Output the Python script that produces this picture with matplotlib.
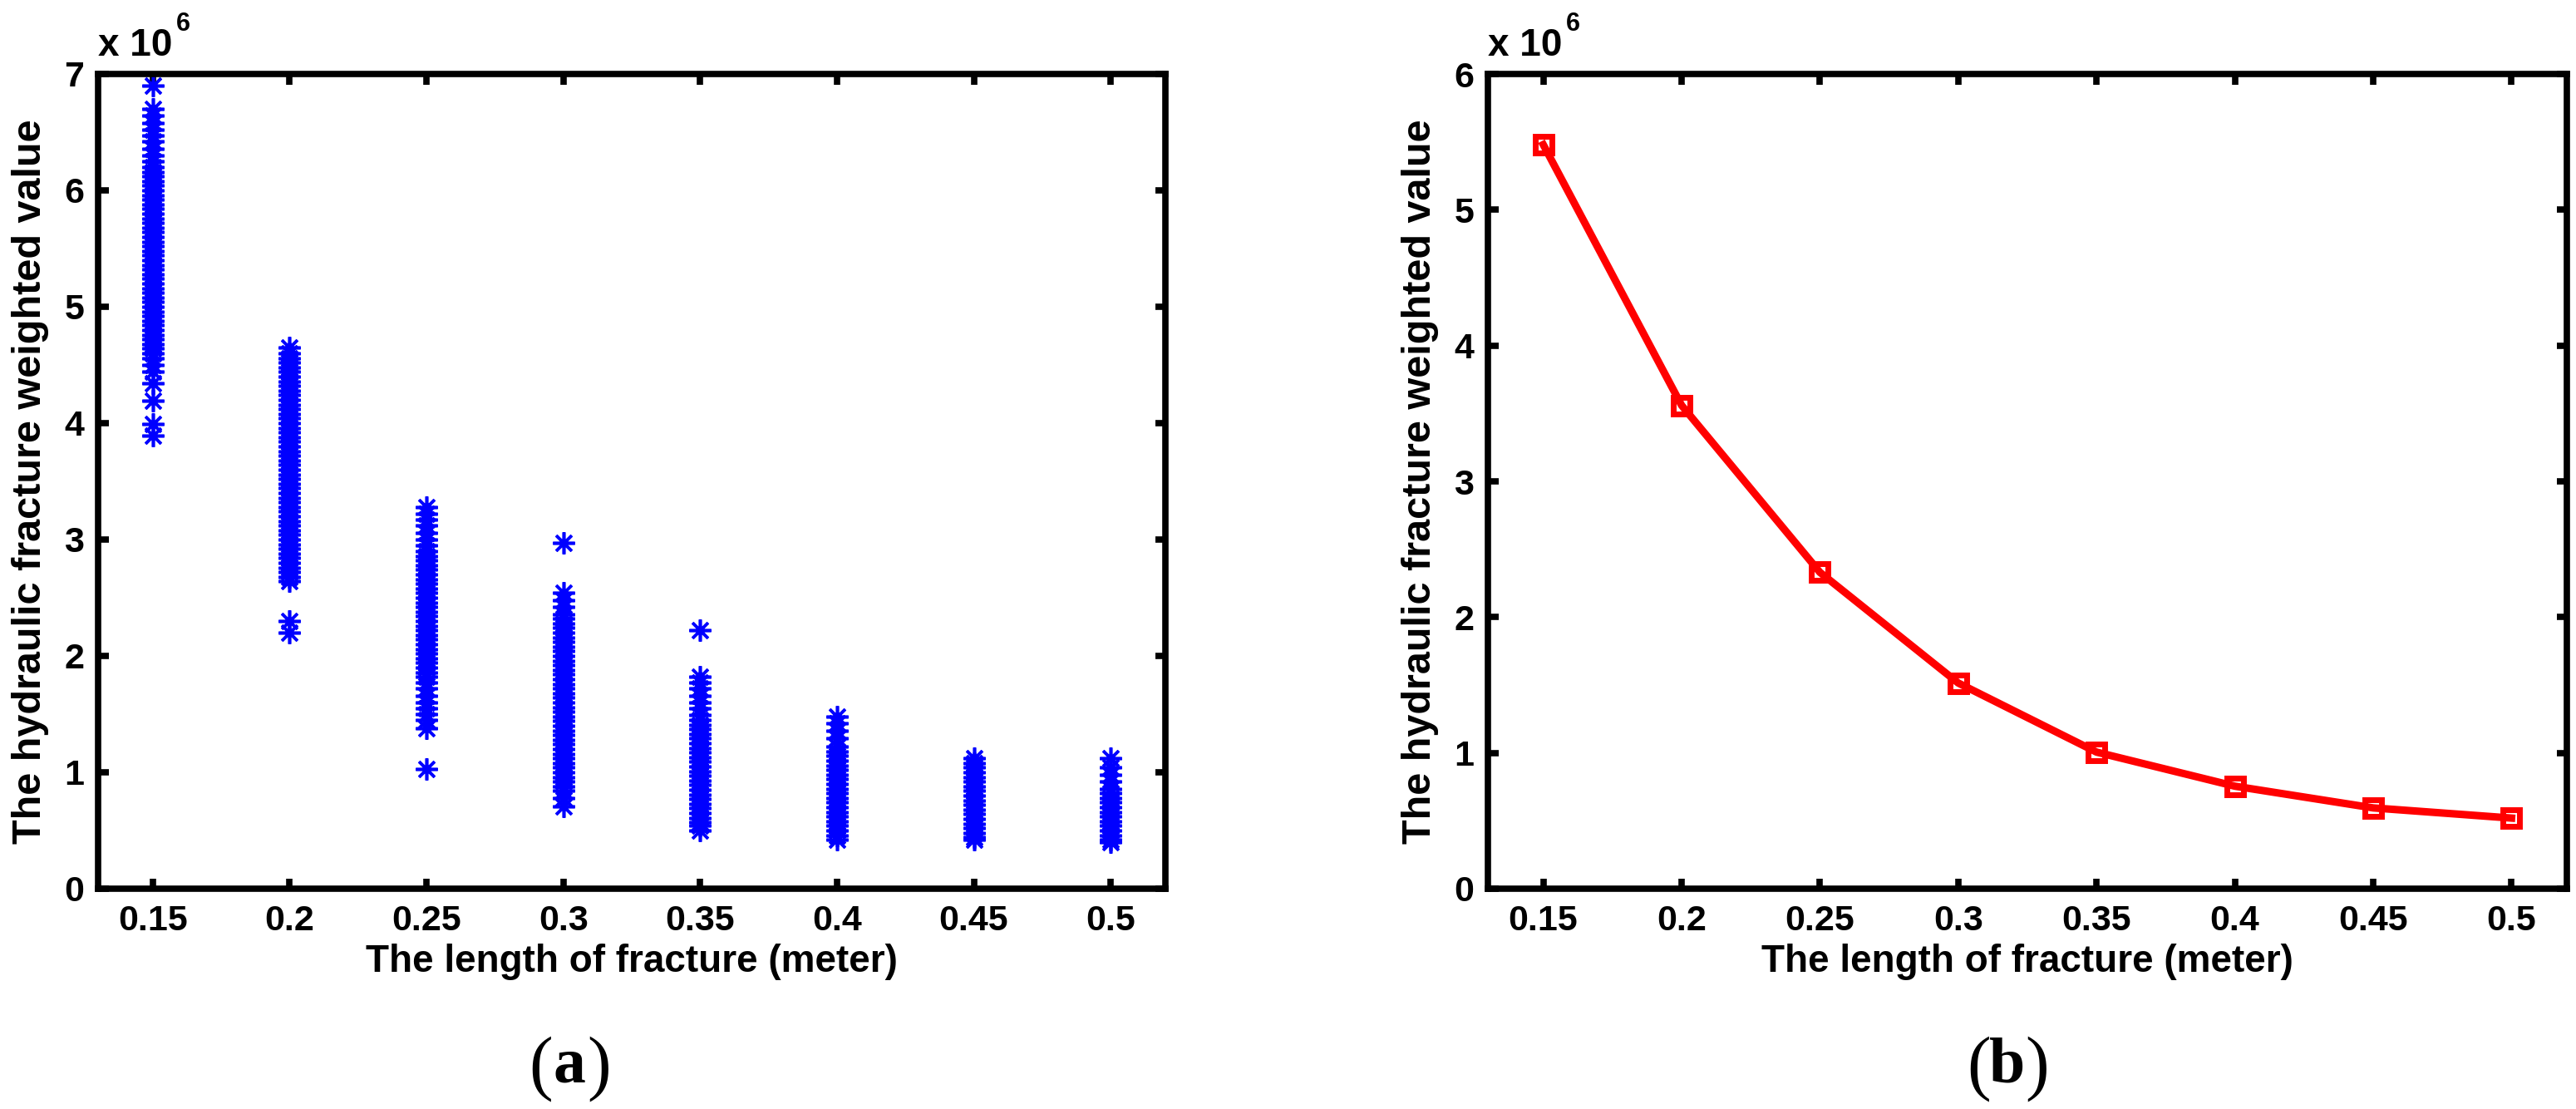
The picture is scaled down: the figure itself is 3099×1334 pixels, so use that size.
import numpy as np
import matplotlib.pyplot as plt

plt.rcParams['font.family'] = ['Liberation Sans', 'DejaVu Sans']
plt.rcParams['font.weight'] = 'bold'

# fracture length (m) and weighted values (x 1e6)
lengths = [0.15, 0.2, 0.25, 0.3, 0.35, 0.4, 0.45, 0.5]

w_015 = [6.90, 6.70, 6.64, 6.58, 6.52, 6.47, 6.42, 6.36, 6.30, 6.25,
         6.20, 6.16, 6.12, 6.08, 6.04, 6.00, 5.96, 5.92, 5.88, 5.84,
         5.80, 5.76, 5.72, 5.68, 5.64, 5.60, 5.56, 5.52, 5.48, 5.44,
         5.40, 5.36, 5.32, 5.28, 5.24, 5.20, 5.16, 5.12, 5.08, 5.04,
         5.00, 4.96, 4.92, 4.88, 4.84, 4.80, 4.76, 4.72, 4.68, 4.64,
         4.60, 4.56, 4.50, 4.44, 4.34, 4.19, 3.99, 3.89]
w_020 = [4.65, 4.60, 4.56, 4.52, 4.48, 4.44, 4.40, 4.36, 4.32, 4.28,
         4.24, 4.20, 4.16, 4.12, 4.08, 4.04, 4.00, 3.96, 3.92, 3.88,
         3.84, 3.80, 3.76, 3.72, 3.68, 3.64, 3.60, 3.56, 3.52, 3.48,
         3.44, 3.40, 3.36, 3.32, 3.28, 3.24, 3.20, 3.16, 3.12, 3.08,
         3.04, 3.00, 2.96, 2.92, 2.88, 2.84, 2.80, 2.76, 2.72, 2.68,
         2.64, 2.30, 2.20]
w_025 = [3.28, 3.22, 3.17, 3.12, 3.06, 3.00, 2.95, 2.90, 2.86, 2.82,
         2.78, 2.74, 2.70, 2.66, 2.62, 2.58, 2.54, 2.50, 2.46, 2.42,
         2.38, 2.34, 2.30, 2.26, 2.22, 2.18, 2.14, 2.10, 2.06, 2.02,
         1.98, 1.94, 1.90, 1.86, 1.82, 1.77, 1.72, 1.66, 1.60, 1.55,
         1.50, 1.45, 1.38, 1.03]
w_030 = [2.97, 2.54, 2.48, 2.42, 2.36, 2.32, 2.28, 2.24, 2.20, 2.16,
         2.12, 2.08, 2.04, 2.00, 1.96, 1.92, 1.88, 1.84, 1.80, 1.76,
         1.72, 1.68, 1.64, 1.60, 1.56, 1.52, 1.48, 1.44, 1.40, 1.36,
         1.32, 1.28, 1.24, 1.20, 1.16, 1.12, 1.08, 1.04, 1.00, 0.96,
         0.92, 0.88, 0.84, 0.78, 0.71]
w_035 = [2.22, 1.82, 1.77, 1.72, 1.66, 1.60, 1.55, 1.49, 1.45, 1.41,
         1.37, 1.33, 1.29, 1.25, 1.21, 1.17, 1.13, 1.09, 1.05, 1.01,
         0.97, 0.93, 0.89, 0.85, 0.81, 0.77, 0.73, 0.69, 0.65, 0.61,
         0.57, 0.54, 0.50]
w_040 = [1.48, 1.42, 1.36, 1.29, 1.22, 1.18, 1.14, 1.10, 1.06, 1.02,
         0.98, 0.94, 0.90, 0.86, 0.82, 0.78, 0.74, 0.70, 0.66, 0.62,
         0.58, 0.54, 0.50, 0.46, 0.42]
w_045 = [1.12, 1.08, 1.04, 1.00, 0.96, 0.92, 0.88, 0.84, 0.80, 0.76,
         0.72, 0.68, 0.64, 0.60, 0.56, 0.52, 0.48, 0.44, 0.42]
w_050 = [1.12, 1.04, 0.98, 0.92, 0.86, 0.82, 0.78, 0.74, 0.70, 0.66,
         0.62, 0.58, 0.54, 0.50, 0.46, 0.42, 0.40]
scatter_cols = [w_015, w_020, w_025, w_030, w_035, w_040, w_045, w_050]

# panel (b): weighted value per length
mean_weight = [5.48, 3.56, 2.33, 1.515, 1.006, 0.755, 0.595, 0.52]

xtick_labels = ['0.15', '0.2', '0.25', '0.3', '0.35', '0.4', '0.45', '0.5']
xlabel_txt = 'The length of fracture (meter)'
ylabel_txt = 'The hydraulic fracture weighted value'

fig = plt.figure(figsize=(30.99, 13.34), dpi=100)
ax1 = fig.add_axes([118/3099, 1 - 1069/1334, (1402-118)/3099, 980/1334])
ax2 = fig.add_axes([1790/3099, 1 - 1069/1334, (3088-1790)/3099, 980/1334])

for x, col in zip(lengths, scatter_cols):
  ax1.plot([x]*len(col), col, linestyle='none', marker=(8, 2, 0),
           ms=19, mec=(0, 0, 1), mew=2.6)

ax2.plot(lengths, mean_weight, color=(1, 0, 0), lw=6.5, marker='s', ms=15,
         mfc='none', mec=(1, 0, 0), mew=5)

def style(ax, ytop):
  ax.set_xlim(0.13, 0.52)
  ax.set_ylim(0, ytop)
  ax.set_xticks(lengths)
  ax.set_xticklabels(xtick_labels)
  ax.set_yticks(range(ytop + 1))
  for s in ax.spines.values():
    s.set_linewidth(5.5)
  ax.tick_params(direction='in', length=9, width=5.5, top=True, right=True,
                 labelsize=31)
  ax.tick_params(axis='x', pad=14)
  ax.tick_params(axis='y', pad=12)
  ax.set_xlabel(xlabel_txt, fontsize=33, fontweight='bold', labelpad=5)
  ax.set_ylabel(ylabel_txt, fontsize=35, fontweight='bold', labelpad=13)
  t = ax.text(0.0, 1.012, 'x 10', transform=ax.transAxes, fontsize=33,
              fontweight='bold', ha='left', va='bottom')
  ax.annotate('6', xy=(1.0, 0.75), xycoords=t, xytext=(3, 0),
              textcoords='offset points', fontsize=22, fontweight='bold',
              ha='left', va='bottom')

style(ax1, 7)
style(ax2, 6)

paren = dict(fontsize=62, family='Liberation Serif', fontweight='normal',
             ha='center', va='baseline')
letter = dict(fontsize=56, family='Liberation Serif', fontweight='bold',
              ha='center', va='baseline')
for x0, lab in [(685, 'a'), (2415, 'b')]:
  fig.text((x0 - 34)/3099, 1 - 1306/1334, '(', **paren)
  fig.text(x0/3099, 1 - 1302/1334, lab, **letter)
  fig.text((x0 + 36)/3099, 1 - 1306/1334, ')', **paren)

fig.savefig('out.png', dpi=100)
